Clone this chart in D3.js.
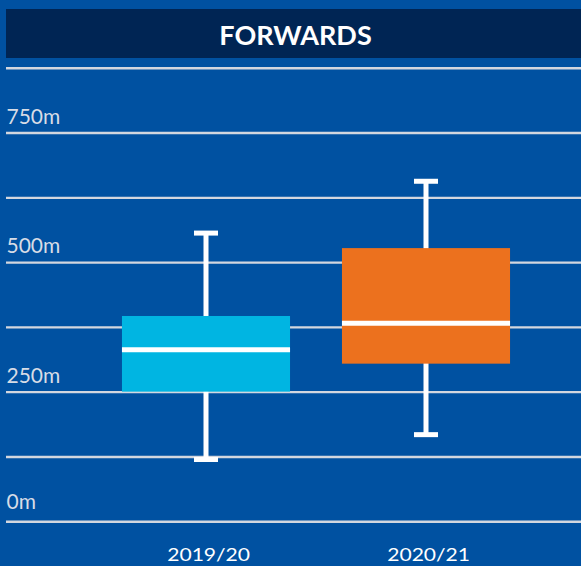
<!DOCTYPE html>
<html>
<head>
<meta charset="utf-8">
<script src="https://cdn.jsdelivr.net/npm/d3@7"></script>
<style>
  html, body { margin: 0; padding: 0; background: #0051a1; }
  svg { display: block; }
</style>
</head>
<body>
<svg id="chart" width="581" height="566"></svg>
<script>
const title = "FORWARDS";
const categories = ["2019/20", "2020/21"];
const whiskerLow = [120, 168];
const q1 = [251, 305];
const median = [332, 383];
const q3 = [397, 528];
const whiskerHigh = [557, 657];
const gridTicks = [0, 125, 250, 375, 500, 625, 750, 875];
const labelTicks = [0, 250, 500, 750];
const boxColors = ["#00b5e2", "#ec711e"];

const W = 581, H = 566;
const svg = d3.select("#chart");

svg.append("rect").attr("x", 0).attr("y", 0).attr("width", W).attr("height", H).attr("fill", "#0051a1");

// title bar
svg.append("rect").attr("x", 6).attr("y", 9).attr("width", W - 6).attr("height", 49).attr("fill", "#002554");
svg.append("text").attr("x", 295.5).attr("y", 44.5).attr("text-anchor", "middle")
  .attr("font-family", "Lato, 'Open Sans', sans-serif").attr("font-weight", 700)
  .attr("font-size", 27).attr("fill", "#ffffff").text(title);

const y = d3.scaleLinear().domain([0, 875]).range([521.7, 68.3]);
const x = d3.scaleBand().domain(categories).range([96, 536]).padding(0);
const boxW = x.bandwidth() * 0.764;

// gridlines
svg.append("g").selectAll("line").data(gridTicks).join("line")
  .attr("x1", 6).attr("x2", W)
  .attr("y1", d => y(d)).attr("y2", d => y(d))
  .attr("stroke", "#d3d7df").attr("stroke-width", 2.4);

// y labels
svg.append("g").selectAll("text").data(labelTicks).join("text")
  .attr("x", 6.5).attr("y", d => y(d) - (d === 0 ? 12.7 : 9.5))
  .attr("font-family", "Lato, 'Open Sans', sans-serif")
  .attr("font-size", 21).attr("fill", "#d7dce6")
  .text(d => d + "m");

// x labels
svg.append("g").selectAll("text").data(categories).join("text")
  .attr("transform", d => `translate(${x(d) + x.bandwidth() / 2 + 2.6},560.7) scale(1.24,1)`)
  .attr("text-anchor", "middle")
  .attr("font-family", "Lato, 'Open Sans', sans-serif")
  .attr("font-size", 17).attr("fill", "#ffffff")
  .text(d => d);

const idx = categories.map((c, i) => i);
const g = svg.append("g");
// whisker vertical lines
g.selectAll("line.stem").data(idx).join("line").attr("class", "stem")
  .attr("x1", i => x(categories[i]) + x.bandwidth() / 2)
  .attr("x2", i => x(categories[i]) + x.bandwidth() / 2)
  .attr("y1", i => y(whiskerLow[i])).attr("y2", i => y(whiskerHigh[i]))
  .attr("stroke", "#ffffff").attr("stroke-width", 5);
// caps
[whiskerLow, whiskerHigh].forEach(arr => {
  g.append("g").selectAll("line").data(idx).join("line")
    .attr("x1", i => x(categories[i]) + x.bandwidth() / 2 - 12)
    .attr("x2", i => x(categories[i]) + x.bandwidth() / 2 + 12)
    .attr("y1", i => y(arr[i])).attr("y2", i => y(arr[i]))
    .attr("stroke", "#ffffff").attr("stroke-width", 5);
});
// boxes
g.selectAll("rect.box").data(idx).join("rect").attr("class", "box")
  .attr("x", i => x(categories[i]) + x.bandwidth() / 2 - boxW / 2)
  .attr("width", boxW)
  .attr("y", i => y(q3[i]))
  .attr("height", i => y(q1[i]) - y(q3[i]))
  .attr("fill", i => boxColors[i]);
// median
g.selectAll("line.med").data(idx).join("line").attr("class", "med")
  .attr("x1", i => x(categories[i]) + x.bandwidth() / 2 - boxW / 2)
  .attr("x2", i => x(categories[i]) + x.bandwidth() / 2 + boxW / 2)
  .attr("y1", i => y(median[i])).attr("y2", i => y(median[i]))
  .attr("stroke", "#ffffff").attr("stroke-width", 5);
</script>
</body>
</html>
